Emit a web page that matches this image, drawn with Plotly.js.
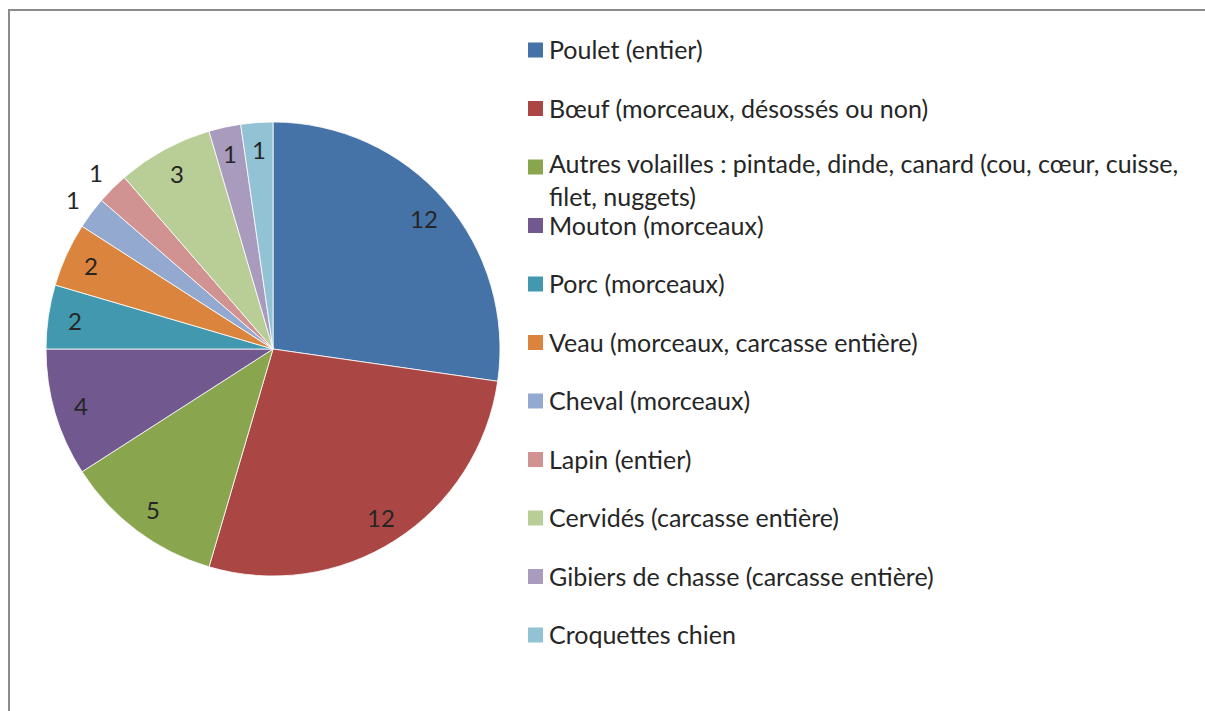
<!DOCTYPE html>
<html><head><meta charset="utf-8">
<script src="https://cdn.plot.ly/plotly-3.0.1.min.js"></script>
<style>html,body{margin:0;padding:0;background:#fff;}#chart{width:1205px;height:711px;}</style>
</head><body><div id="chart"></div>
<script>
// ---- data ----
const categories = [
  "Poulet (entier)",
  "Bœuf (morceaux, désossés ou non)",
  "Autres volailles : pintade, dinde, canard (cou, cœur, cuisse,<br>filet, nuggets)",
  "Mouton (morceaux)",
  "Porc (morceaux)",
  "Veau (morceaux, carcasse entière)",
  "Cheval (morceaux)",
  "Lapin (entier)",
  "Cervidés (carcasse entière)",
  "Gibiers de chasse (carcasse entière)",
  "Croquettes chien"
];
const counts = [12, 12, 5, 4, 2, 2, 1, 1, 3, 1, 1];
const labelOutside = [false, false, false, false, false, false, true, true, false, false, false];
const colors = ["#4572A7","#AA4643","#89A54E","#71588F","#4198AF","#DB843D","#93A9CF","#D19392","#B9CD96","#A99BBD","#92C3D4"];

// ---- layout constants ----
const W = 1205, H = 711;
const cx = 273, cy = 349, R = 227;
const FONT = "Lato, 'Open Sans', sans-serif";
const TXT = "#262626";
const FS = 25;

const trace = {
  type: "pie",
  labels: categories,
  values: counts,
  sort: false,
  direction: "clockwise",
  rotation: 0,
  textinfo: "none",
  hoverinfo: "label+value",
  marker: {colors: colors, line: {color: "#ffffff", width: 0.8}},
  domain: {x: [(cx - R) / W, (cx + R) / W], y: [(H - cy - R) / H, (H - cy + R) / H]},
  showlegend: false
};

const annotations = [];
const shapes = [];
// data labels, placed on each slice's mid angle
const total = counts.reduce((a, b) => a + b, 0);
let cum = 0;
counts.forEach((v, i) => {
  const mid = (cum + v / 2) / total * 2 * Math.PI;
  cum += v;
  const d = labelOutside[i] ? 250 : 200;
  const px = cx + d * Math.sin(mid);
  const py = cy - d * Math.cos(mid);
  annotations.push({
    xref: "paper", yref: "paper", x: px / W, y: 1 - py / H,
    xanchor: "center", yanchor: "middle", showarrow: false,
    text: String(v), font: {family: FONT, size: 24, color: TXT}
  });
});

// legend
const legX = 528, legSq = 15, legTop = 50, legStep = 58.5;
categories.forEach((c, i) => {
  const yc = legTop + i * legStep;
  const multi = c.indexOf("<br>") >= 0;
  shapes.push({type: "rect", xref: "paper", yref: "paper",
    x0: legX / W, x1: (legX + legSq) / W, y0: 1 - (yc - legSq / 2) / H, y1: 1 - (yc + legSq / 2) / H,
    fillcolor: colors[i], line: {width: 0}});
  annotations.push({
    xref: "paper", yref: "paper", x: (legX + legSq + 4) / W, y: 1 - (yc - (multi ? 21 : 18)) / H,
    xanchor: "left", yanchor: "top", align: "left", showarrow: false,
    text: c, font: {family: FONT, size: FS, color: TXT}
  });
});

// frame
shapes.push({type: "line", xref: "paper", yref: "paper", x0: 9 / W, x1: 9 / W, y0: 1 - 10 / H, y1: 0, line: {color: "#8c8c8c", width: 2}});
shapes.push({type: "line", xref: "paper", yref: "paper", x0: 8 / W, x1: 1, y0: 1 - 10 / H, y1: 1 - 10 / H, line: {color: "#8c8c8c", width: 2}});

const layout = {
  width: W, height: H,
  margin: {l: 0, r: 0, t: 0, b: 0},
  paper_bgcolor: "#ffffff",
  showlegend: false,
  annotations: annotations,
  shapes: shapes,
  font: {family: FONT, size: FS, color: TXT}
};

Plotly.newPlot("chart", [trace], layout, {displayModeBar: false, staticPlot: true});
</script></body></html>
